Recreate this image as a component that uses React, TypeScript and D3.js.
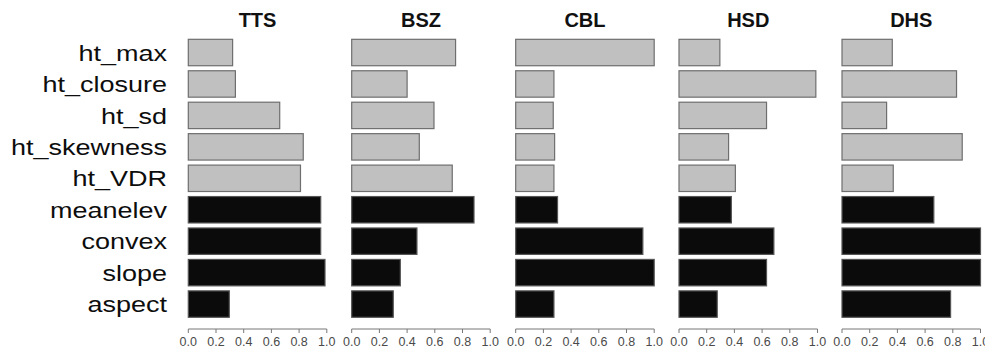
import React from 'react';
import * as d3 from 'd3';

const variables = ['ht_max', 'ht_closure', 'ht_sd', 'ht_skewness', 'ht_VDR', 'meanelev', 'convex', 'slope', 'aspect'];
const heightVars = ['ht_max', 'ht_closure', 'ht_sd', 'ht_skewness', 'ht_VDR'];
const sites = ['TTS', 'BSZ', 'CBL', 'HSD', 'DHS'];

const TTS = [0.32, 0.34, 0.66, 0.83, 0.81, 0.956, 0.956, 0.987, 0.296];
const BSZ = [0.75, 0.40, 0.594, 0.488, 0.726, 0.883, 0.471, 0.351, 0.30];
const CBL = [1.0, 0.276, 0.271, 0.281, 0.276, 0.302, 0.918, 1.0, 0.276];
const HSD = [0.295, 0.988, 0.632, 0.358, 0.407, 0.378, 0.685, 0.632, 0.276];
const DHS = [0.363, 0.827, 0.322, 0.868, 0.37, 0.663, 1.0, 1.0, 0.784];

const tickValues = [0, 0.2, 0.4, 0.6, 0.8, 1.0];

const seriesList = [TTS, BSZ, CBL, HSD, DHS];

const width = 985,
    height = 348;

const panelStarts = [188.3, 351.7, 515.7, 679, 842];
const panelWidth = 138.5;

export default function App() {
  const y = d3.scaleBand<string>()
      .domain(variables)
      .range([36.8, 319.8])
      .paddingInner(0.16)
      .paddingOuter(0.08);

  const axisY = 329;

  return (
    <svg width={width} height={height} style={{ position: 'absolute', left: 0, top: 0, background: '#fff' }}
        fontFamily="'Liberation Sans', Arial, sans-serif">
      {/* row labels */}
      {variables.map(v => (
        <text key={v}
            transform={`translate(167, ${(y(v) as number) + y.bandwidth() / 2 + 0.5}) scale(1.2, 1)`}
            textAnchor="end" dominantBaseline="central" fontSize={22.5} fill="#0d0d0d">
          {v}
        </text>
      ))}

      {sites.map((site, si) => {
        const x = d3.scaleLinear().domain([0, 1]).range([panelStarts[si], panelStarts[si] + panelWidth]);
        const values = seriesList[si];
        return (
          <g key={site}>
            <text x={(x(0) + x(1)) / 2} y={27} textAnchor="middle" fontSize={20} fontWeight="bold" fill="#111">
              {site}
            </text>
            {variables.map((v, i) => {
              const isHt = heightVars.includes(v);
              return (
                <rect key={v}
                    x={x(0)} y={y(v)} width={x(values[i]) - x(0)} height={y.bandwidth()}
                    fill={isHt ? '#c0c0c0' : '#0b0b0b'}
                    stroke={isHt ? '#6e6e6e' : '#555'} strokeWidth={1.2} />
              );
            })}
            <g stroke="#777" strokeWidth={1}>
              <line x1={x(0)} x2={x(1)} y1={axisY} y2={axisY} />
              {tickValues.map(t => (
                <line key={t} x1={x(t)} x2={x(t)} y1={axisY} y2={axisY + 4} />
              ))}
            </g>
            {tickValues.map(t => (
              <text key={t} x={x(t)} y={345.5} textAnchor="middle" fontSize={12.5} fill="#4a4a4a">
                {d3.format('.1f')(t)}
              </text>
            ))}
          </g>
        );
      })}
    </svg>
  );
}
